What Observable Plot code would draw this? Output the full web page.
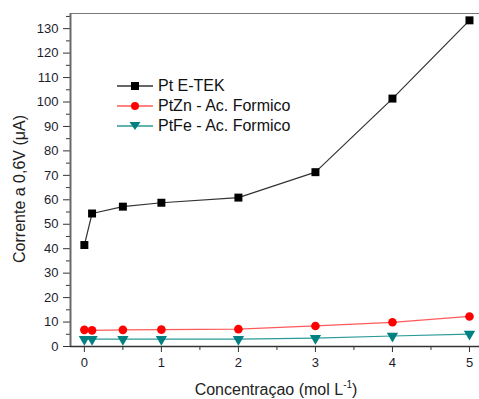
<!DOCTYPE html>
<html>
<head>
<meta charset="utf-8">
<script src="https://cdn.jsdelivr.net/npm/d3@7"></script>
<script src="https://cdn.jsdelivr.net/npm/@observablehq/plot@0.6"></script>
<style>
  html, body { margin: 0; padding: 0; background: #fff; }
  #wrap { position: relative; width: 479px; height: 399px; font-family: "Liberation Sans", Arial, sans-serif; }
  #legend { position: absolute; left: 117px; top: 76px; font-size: 16px; color: #111; }
  .row { display: flex; align-items: center; height: 20px; }
  .row svg { margin-right: 5px; }
</style>
</head>
<body>
<div id="wrap"></div>
<script>
const conc = [0, 0.1, 0.5, 1, 2, 3, 4, 5];
const ptEtek = [41.5, 54.4, 57.2, 58.8, 60.9, 71.3, 101.4, 133.4];
const ptZn = [6.8, 6.6, 6.8, 6.9, 7.1, 8.4, 9.9, 12.3];
const ptFe = [3.0, 3.0, 3.0, 3.0, 3.0, 3.4, 4.3, 5.1];
const seriesNames = ["Pt E-TEK", "PtZn - Ac. Formico", "PtFe - Ac. Formico"];
const xMajor = [0, 1, 2, 3, 4, 5];
const xMinor = [0.5, 1.5, 2.5, 3.5, 4.5];
const yMajor = d3.range(0, 131, 10);
const yMinor = d3.range(5, 136, 10);

const series = [
  {name: seriesNames[0], values: ptEtek, line: "#333", fill: "#000", symbol: "square", r: 4.5, rotate: 0},
  {name: seriesNames[1], values: ptZn, line: "#ff5a5a", fill: "#ff0000", symbol: "circle", r: 4.3, rotate: 0},
  {name: seriesNames[2], values: ptFe, line: "#2a9a9a", fill: "#008080", symbol: "triangle", r: 4.2, rotate: 180}
];
const rows = series.flatMap(s => conc.map((c, i) => ({x: c, y: s.values[i], name: s.name})));

const marks = [];
for (const s of series) {
  const data = rows.filter(d => d.name === s.name);
  marks.push(Plot.line(data, {x: "x", y: "y", stroke: s.line, strokeWidth: 1.2}));
  marks.push(Plot.dot(data, {x: "x", y: "y", symbol: () => s.symbol, fill: s.fill, stroke: "none", r: s.r, rotate: s.rotate}));
}

const xDomain = [-0.18, 5.13];
const yDomain = [0, 136.2];

const plot = Plot.plot({
  width: 479,
  height: 399,
  marginLeft: 70,
  marginRight: 0,
  marginTop: 13,
  marginBottom: 53,
  style: {fontFamily: "'Liberation Sans', Arial, sans-serif", fontSize: "13px", color: "#1c1c2e", background: "#fff"},
  x: {domain: xDomain, axis: null},
  y: {domain: yDomain, axis: null},
  symbol: {type: "identity"},
  marks: [
    Plot.axisY(yMajor, {tickSize: 7, tickPadding: 5, stroke: "#333", fontSize: 13, label: null}),
    Plot.axisY(yMinor, {tickSize: 4, text: null, stroke: "#333", label: null}),
    Plot.axisX(xMajor, {tickSize: 6, tickPadding: 5, stroke: "#333", fontSize: 13, label: null}),
    Plot.axisX(xMinor, {tickSize: 4, text: null, stroke: "#333", label: null}),
    Plot.ruleX([xDomain[0]], {stroke: "#6a6a6a", strokeWidth: 2}),
    Plot.ruleY([yDomain[0]], {stroke: "#333", strokeWidth: 1.5}),
    Plot.ruleY([yDomain[1]], {stroke: "#777", strokeWidth: 1}),
    ...marks
  ]
});

// axis titles
const svg = d3.select(plot);
svg.append("text")
  .attr("transform", "translate(21,189) rotate(-90)")
  .attr("text-anchor", "middle")
  .attr("dominant-baseline", "middle")
  .attr("font-size", 16)
  .attr("fill", "#222")
  .text("Corrente a 0,6V (μA)");
const xl = svg.append("text")
  .attr("x", 276).attr("y", 395)
  .attr("text-anchor", "middle")
  .attr("font-size", 16)
  .attr("fill", "#222");
xl.append("tspan").text("Concentraçao (mol L");
xl.append("tspan").attr("font-size", 10).attr("dy", -7).text("-1");
xl.append("tspan").attr("dy", 7).text(")");

const wrap = document.getElementById("wrap");
wrap.appendChild(plot);

// legend overlay
const legend = document.createElement("div");
legend.id = "legend";
for (const s of series) {
  const row = document.createElement("div");
  row.className = "row";
  let sym;
  if (s.symbol === "square") sym = '<rect x="14" y="6" width="8" height="8" fill="' + s.fill + '"/>';
  else if (s.symbol === "circle") sym = '<circle cx="18" cy="10" r="4" fill="' + s.fill + '"/>';
  else sym = '<path d="M12.5,6 L23.5,6 L18,14 Z" fill="' + s.fill + '"/>';
  row.innerHTML = '<svg width="36" height="20"><line x1="0" y1="10" x2="36" y2="10" stroke="' + s.line + '" stroke-width="1.5"/>' + sym + '</svg><span>' + s.name + '</span>';
  legend.appendChild(row);
}
wrap.appendChild(legend);
</script>
</body>
</html>
